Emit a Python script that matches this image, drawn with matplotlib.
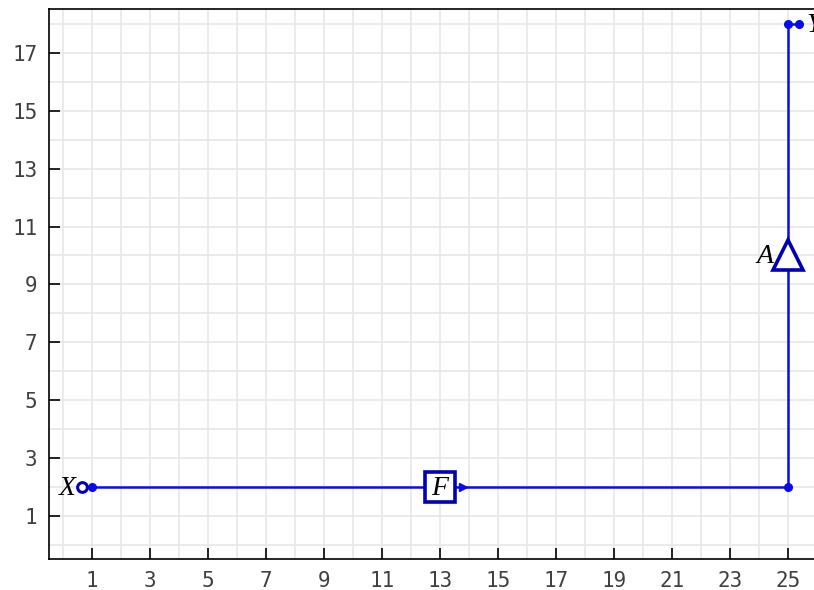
import matplotlib
matplotlib.use("Agg")
import matplotlib.pyplot as plt
from matplotlib.ticker import MultipleLocator

# data
path_x = [1, 25, 25]
path_y = [2, 2, 18]
start_pt = (0.65, 2)
end_pt = (25.38, 18)
dot_x = [1, 25, 25]
dot_y = [2, 2, 18]
box_pt = (13, 2)
arrow_pt = (13.8, 2)
tri_pt = (25, 10)
labels = {"X": (0.45, 1.95), "F": (13, 1.95), "A": (24.5, 9.95), "Y": (25.62, 17.95)}
xticks = list(range(1, 26, 2))
yticks = list(range(1, 18, 2))

LINE = "#0a0af0"
DARK = "#0000b4"
TICKFONT = "DejaVu Sans Mono"

fig = plt.figure(figsize=(8.14, 5.9), dpi=100)
ax = fig.add_axes([48.5/814, 30.6/590, 783/814, 550/590])
ax.set_xlim(-0.5, 26.5)
ax.set_ylim(-0.5, 18.5)

ax.set_xticks(xticks, [str(v) for v in xticks], family=TICKFONT, color="#404040")
ax.set_yticks(yticks, [str(v) for v in yticks], family=TICKFONT, color="#404040")
ax.xaxis.set_minor_locator(MultipleLocator(1))
ax.yaxis.set_minor_locator(MultipleLocator(1))
ax.grid(which="both", color="#e6e6e6", lw=1.1, zorder=0)
ax.set_axisbelow(True)
ax.tick_params(which="major", direction="in", length=8, width=1.2, labelsize=15,
               color="black", top=False, right=False, pad=8)
ax.tick_params(which="minor", length=0)
for s in ax.spines.values():
    s.set_linewidth(1.2)

ax.plot(path_x, path_y, color=LINE, lw=1.8, zorder=2)
ax.plot([start_pt[0], dot_x[0]], [start_pt[1], dot_y[0]], color=LINE, lw=1.8, zorder=2)
ax.plot([dot_x[2], end_pt[0]], [dot_y[2], end_pt[1]], color=LINE, lw=1.8, zorder=2)
ax.plot(dot_x, dot_y, "o", color=LINE, ms=5.5, zorder=3)
ax.plot([end_pt[0]], [end_pt[1]], "o", color=LINE, ms=5.5, zorder=3)
ax.plot([start_pt[0]], [start_pt[1]], "o", mfc="white", mec=DARK, mew=2.2, ms=7, zorder=4)
ax.plot([box_pt[0]], [box_pt[1]], "s", mfc="white", mec=DARK, mew=2.6, ms=21, zorder=4)
ax.plot([arrow_pt[0]], [arrow_pt[1]], ">", color=LINE, ms=6, zorder=4)
ax.plot([tri_pt[0]], [tri_pt[1]], "^", mfc="white", mec=DARK, mew=2.6, ms=21, zorder=4)

for name, (lx, ly) in labels.items():
    ha = "center"
    if name in ("X", "A"):
        ha = "right"
    elif name == "Y":
        ha = "left"
    ax.text(lx, ly, name, fontsize=20, family="Liberation Serif", style="italic",
            ha=ha, va="center", zorder=5, clip_on=False)

fig.savefig("out.png", dpi=100)
